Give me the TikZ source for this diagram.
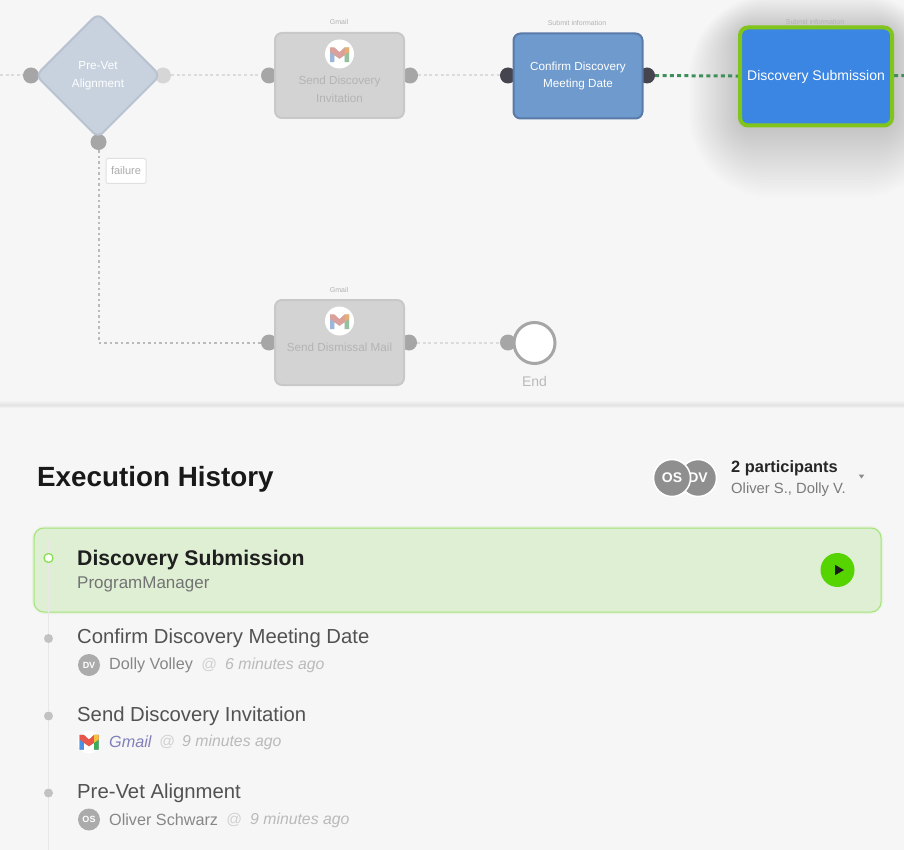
\documentclass[tikz,border=0pt]{standalone}
\usepackage{fontspec}
\setmainfont{Liberation Sans}
\usetikzlibrary{arrows,shapes,shapes.geometric,backgrounds,positioning}
\definecolor{pagegray}{HTML}{F6F6F6}
\definecolor{fadedbox}{HTML}{D4D3D3}
\definecolor{fadedline}{HTML}{C8C8C8}
\definecolor{fadedtext}{HTML}{B4B4B4}
\definecolor{portgray}{HTML}{A6A6A6}
\definecolor{portdark}{HTML}{45454F}
\definecolor{gatefill}{HTML}{C8D2DE}
\definecolor{gateline}{HTML}{B9C2CF}
\definecolor{confirmfill}{HTML}{6E9ACD}
\definecolor{confirmline}{HTML}{5A7BA8}
\definecolor{activefill}{HTML}{3B85E3}
\definecolor{activeline}{HTML}{80C41C}
\definecolor{flowgreen}{HTML}{3F8F5C}
\definecolor{cardfill}{HTML}{DFEFD4}
\definecolor{cardline}{HTML}{A4E27C}
\definecolor{playgreen}{HTML}{55D400}
\definecolor{mailred}{HTML}{E8574A}
\definecolor{mailblue}{HTML}{4A90E8}
\definecolor{mailgreen}{HTML}{3BAA5C}
\definecolor{mailyellow}{HTML}{F5C33B}
\newcommand{\fsize}[1]{\fontsize{#1}{#1}\selectfont}
\newcommand{\gmailmark}[3]{%
  \begin{scope}[shift={(#1)},scale=#2,opacity=#3]
    \fill[black!45] (-1,-.75) -- (-.55,-.75) -- (0,-.25) -- (.55,-.75) -- (1,-.75)
      -- (1,.8) -- (.55,.8) -- (.55,.07) -- (0,.45) -- (-.55,.07) -- (-.55,.8) -- (-1,.8) -- cycle;
    \fill[mailred] (-1,-.75) -- (-.55,-.75) -- (0,-.25) -- (.55,-.75) -- (1,-.75)
      -- (1,-.25) -- (0,.45) -- (-1,-.25) -- cycle;
    \fill[mailblue] (-1,-.25) -- (-.55,.07) -- (-.55,.8) -- (-1,.8) -- cycle;
    \fill[mailgreen] (1,-.25) -- (.55,.07) -- (.55,.8) -- (1,.8) -- cycle;
    \fill[mailyellow] (.55,-.75) -- (1,-.75) -- (1,-.25) -- (.55,.07) -- cycle;
  \end{scope}}

\begin{document}
\begin{tikzpicture}[x=1pt,y=-1pt,>=stealth',auto]
  \tikzstyle{box}=[rectangle,rounded corners=7pt,line width=2pt,minimum width=129pt,
                   minimum height=85pt,align=center,inner sep=0pt]
  \tikzstyle{faded box}=[box,draw=fadedline,fill=fadedbox,text=fadedtext,font=\fsize{11.7}]
  \tikzstyle{port}=[circle,fill=portgray,minimum size=16pt,inner sep=0pt]
  \tikzstyle{dark port}=[port,fill=portdark]
  \tikzstyle{pale port}=[port,fill=black!16]
  \tikzstyle{link}=[draw=black!27,line width=2pt,dash pattern=on 2.5pt off 3pt]
  \tikzstyle{pale link}=[draw=black!14,line width=2pt,dash pattern=on 3pt off 2.6pt]
  \tikzstyle{flow}=[draw=flowgreen,line width=3pt,dash pattern=on 4pt off 3.3pt]
  \tikzstyle{caption}=[font=\fsize{7},text=black!30,inner sep=0pt]
  \tikzstyle{mail}=[circle,fill=white,inner sep=0pt]
  \tikzstyle{text row}=[anchor=west,inner sep=0pt]
  \tikzstyle{step title}=[text row,font=\fsize{20.3},text=black!68]
  \tikzstyle{person}=[text row,font=\fsize{16.2},text=black!47]
  \tikzstyle{at sign}=[text row,font=\fsize{15.5}\itshape,text=black!18]
  \tikzstyle{time}=[text row,font=\fsize{15.8}\itshape,text=black!27]
  \tikzstyle{avatar}=[circle,draw=white,line width=1.5pt,fill=black!44,text=white,
                      minimum size=37pt,inner sep=0pt,font=\fsize{14}\bfseries]
  \tikzstyle{small avatar}=[circle,fill=black!33,text=white,minimum size=22pt,
                            inner sep=0pt,font=\fsize{9}\bfseries]
  \tikzstyle{tick}=[circle,fill=black!24,minimum size=9pt,inner sep=0pt]

  \useasboundingbox (0,0) rectangle (904,850);
  \begin{scope}[on background layer]
    \fill[pagegray] (0,0) rectangle (904,850);
    \fill[top color=pagegray,bottom color=black!11] (0,400) rectangle (904,405);
    \fill[top color=black!11,bottom color=pagegray] (0,405) rectangle (904,408);
    \clip (0,0) rectangle (904,400);
    \foreach \g [evaluate=\g as \r using 12+3*\g] in {1,...,24}
      \fill[black!85!teal,opacity=.0065,rounded corners=\r pt]
        (739-2.1*\g,28-1.4*\g) rectangle (893+2.1*\g,128+2.9*\g);
  \end{scope}

  % process map
  \begin{scope}
    \node [diamond,aspect=1,rounded corners=7pt,line width=2pt,draw=gateline,fill=gatefill,
           minimum size=125pt,inner sep=0pt,align=center,text=white,font=\fsize{11.7}]
           (prevet) at (98,75.5) {Pre-Vet\\[6pt]Alignment};
    \node [faded box] (sendinvite) at (339.5,75.5) {};
    \node [box,draw=confirmline,fill=confirmfill,text=white,font=\fsize{11.7}]
           (confirm) at (578,76) {Confirm Discovery\\[6pt]Meeting Date};
    \node [box,rounded corners=8pt,line width=4pt,draw=activeline,fill=activefill,text=white,
           minimum width=152pt,minimum height=98pt,font=\fsize{14}]
           (submission) at (816,76.5) {Discovery Submission};
    \node [faded box] (dismissal) at (339.5,342.5) {};

    \node [font=\fsize{11.7},text=fadedtext,align=center,inner sep=0pt] (invitetext)
           at (339.5,89) {Send Discovery\\[6pt]Invitation};
    \node [font=\fsize{11.7},text=fadedtext,inner sep=0pt] (dismisstext)
           at (339.5,347) {Send Dismissal Mail};

    \node [caption] (invitecap) at (339,22.5) {Gmail};
    \node [caption] (confirmcap) at (577,23) {Submit information};
    \node [caption] (submitcap) at (815,22.5) {Submit information};
    \node [caption] (dismisscap) at (339,290) {Gmail};

    \node [mail,minimum size=29pt] (invitemail) at (339.5,54) {};
    \gmailmark{339.5,54.5}{9.5}{.4}
    \node [mail,minimum size=29pt] (dismissmail) at (339.5,321) {};
    \gmailmark{339.5,321.5}{9.5}{.4}

    \node [circle,draw=portgray,line width=3pt,fill=white,minimum size=41pt,inner sep=0pt]
           (finish) at (534.5,343) {};
    \node [font=\fsize{14},text=black!27,inner sep=0pt] (finishtext) [below=38pt of finish.center,anchor=center] {End};

    \coordinate (leftend) at (0,75.5);
    \coordinate (rightend) at (904,75.5);
    \coordinate (corner) at (98.5,342.5);

    \begin{scope}[on background layer]
      \node [port] (prevetin) at (31,75.5) {};
      \node [pale port] (prevetok) at (163,75.5) {};
      \node [port] (prevetfail) at (98.5,142) {};
      \node [port] (invitein) at (269,75.5) {};
      \node [port] (inviteout) at (410,75.5) {};
      \node [dark port] (confirmin) at (508,75.5) {};
      \node [dark port] (confirmout) at (647,75.5) {};
      \node [port] (dismissin) at (269,342.5) {};
      \node [port] (dismissout) at (409,342.5) {};
      \node [port] (finishin) at (508,342.5) {};

      \draw [pale link] (leftend) -- (prevetin);
      \draw [pale link] (prevetok) -- (invitein);
      \draw [pale link] (inviteout) -- (confirmin);
      \draw [flow] (confirmout) -- (submission);
      \draw [flow] (submission) -- (rightend);
      \draw [link] (prevetfail) -- (corner) -- (dismissin);
      \draw [pale link] (dismissout) -- (finishin);
    \end{scope}

    \node [rectangle,rounded corners=1.5pt,draw=black!12,line width=1pt,fill=white,
           minimum width=40pt,minimum height=25pt,inner sep=0pt,font=\fsize{11},text=black!33]
           (failure) at (126,171) {failure};
  \end{scope}

  % history panel
  \begin{scope}
    \node [text row,font=\fsize{27.8}\bfseries,text=black!90] (history) at (37,479) {Execution History};

    \node [avatar] (dolly) at (698,478) {DV};
    \node [avatar] (oliver) at (672,478) {OS};
    \node [text row,font=\fsize{16.4}\bfseries,text=black!85] (count) at (731,468.5) {2 participants};
    \node [text row,font=\fsize{14.8},text=black!52] (names) at (731,490) {Oliver S., Dolly V.};
    \node [isosceles triangle,shape border rotate=-90,isosceles triangle apex angle=70,
           fill=black!45,minimum size=4pt,inner sep=0pt] (caret) at (861.5,476) {};

    \draw [cardline,opacity=.18,line width=4pt,rounded corners=11pt] (34,528) rectangle (881,612);
    \node [rectangle,rounded corners=10pt,draw=cardline,line width=1pt,fill=cardfill,
           minimum width=847pt,minimum height=84pt,inner sep=0pt] (card) at (457.5,570) {};
    \node [text row,font=\fsize{21.2}\bfseries,text=black!88] (curtitle) at (77,560) {Discovery Submission};
    \node [text row,font=\fsize{17},text=black!55] (curuser) at (77,584) {ProgramManager};
    \node [circle,fill=playgreen,minimum size=34pt,inner sep=0pt] (play) at (837.5,570) {};
    \node [isosceles triangle,isosceles triangle apex angle=60,fill=black!90,
           minimum size=9pt,inner sep=0pt] (playmark) at (838,570) {};

    \coordinate (linetop) at (48.5,540);
    \coordinate (linebottom) at (48.5,850);
    \node [circle,draw=playgreen!70!white,line width=1.3pt,fill=white,minimum size=9pt,inner sep=0pt]
           (tickcur) at (48.5,558) {};
    \node [tick] (tickconfirm) at (48.5,638.5) {};
    \node [tick] (tickinvite) at (48.5,716) {};
    \node [tick] (tickprevet) at (48.5,793) {};
    \draw [black!9,line width=.7pt] (linetop) -- (tickcur);
    \draw [black!9,line width=.7pt] (tickcur) -- (tickconfirm);
    \draw [black!9,line width=1pt] (tickconfirm) -- (tickinvite);
    \draw [black!9,line width=1pt] (tickinvite) -- (tickprevet);
    \draw [black!9,line width=1pt] (tickprevet) -- (linebottom);

    \node [step title] (row1title) at (77,638.5) {Confirm Discovery Meeting Date};
    \node [small avatar] (row1face) at (89,665) {DV};
    \node [person] (row1who) at (109,665) {Dolly Volley};
    \node [at sign] (row1at) at (201,665) {@};
    \node [time] (row1when) at (225,665.5) {6 minutes ago};

    \node [step title] (row2title) at (77,716) {Send Discovery Invitation};
    \node [mail,minimum size=23pt] (row2face) at (89,742) {};
    \gmailmark{89,742}{9.5}{1}
    \node [person,font=\fsize{16.2}\itshape,text=blue!45!black!50!white] (row2who) at (109,741.5) {Gmail};
    \node [at sign] (row2at) at (159,742) {@};
    \node [time] (row2when) at (182,742) {9 minutes ago};

    \node [step title] (row3title) at (77,793.5) {Pre-Vet Alignment};
    \node [small avatar] (row3face) at (89,819.5) {OS};
    \node [person] (row3who) at (109,820) {Oliver Schwarz};
    \node [at sign] (row3at) at (226,820) {@};
    \node [time] (row3when) at (250,820) {9 minutes ago};
  \end{scope}
\end{tikzpicture}
\end{document}
